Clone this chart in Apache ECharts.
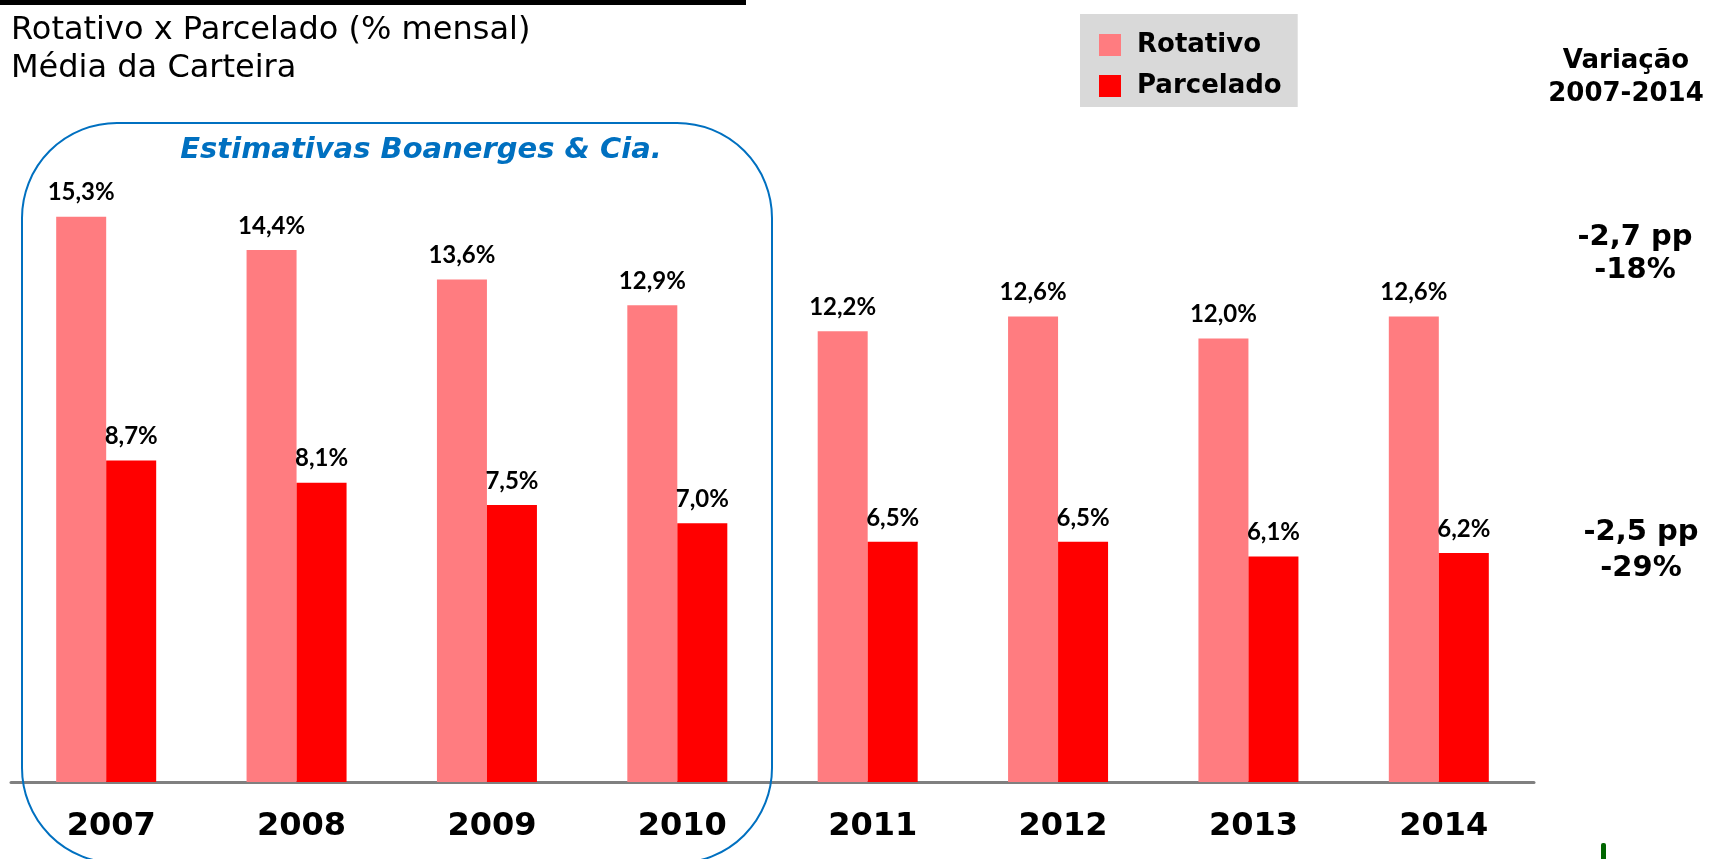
<!DOCTYPE html>
<html>
<head>
<meta charset="utf-8">
<title>Rotativo x Parcelado</title>
<script src="https://cdn.jsdelivr.net/npm/echarts@6/dist/echarts.min.js"></script>
<style>
	html, body { margin: 0; padding: 0; background: #fff; }
	#chart { width: 1712px; height: 859px; }
</style>
</head>
<body>
<div id="chart"></div>
<script>
// dados
const anos = ["2007", "2008", "2009", "2010", "2011", "2012", "2013", "2014"];
const rotativo = [15.3, 14.4, 13.6, 12.9, 12.2, 12.6, 12.0, 12.6];
const parcelado = [8.7, 8.1, 7.5, 7.0, 6.5, 6.5, 6.1, 6.2];
const variacaoRotativo = ["-2,7 pp", "-18%"];
const variacaoParcelado = ["-2,5 pp", "-29%"];

function pct(p) {
	return p.value.toFixed(1).replace(".", ",") + "%";
}

const labelStyle = {
	show: true,
	position: "top",
	distance: 12,
	formatter: pct,
	fontFamily: "Lato",
	fontWeight: "bold",
	fontSize: 24,
	color: "#000",
};

let myChart = echarts.init(document.getElementById("chart"));
let option = {
	animation: false,
	grid: {
		left: 11,
		right: 178,
		top: 43,
		bottom: 77,
	},
	legend: {
		orient: "vertical",
		left: 1080,
		top: 14,
		padding: [18, 16, 8, 19],
		itemGap: 15,
		itemWidth: 22,
		itemHeight: 22,
		backgroundColor: "#d9d9d9",
		icon: "rect",
		textStyle: {
			fontFamily: "DejaVu Sans",
			fontWeight: "bold",
			fontSize: 26,
			lineHeight: 22,
			color: "#000",
			padding: [0, 0, 0, 11],
		},
		data: ["Rotativo", "Parcelado"],
	},
	xAxis: {
		type: "category",
		data: anos,
		axisLine: {
			lineStyle: { color: "#808080", width: 3 },
		},
		axisTick: { show: false },
		axisLabel: {
			margin: 29,
			padding: [0, 0, 0, 10],
			fontFamily: "DejaVu Sans",
			fontWeight: "bold",
			fontSize: 32,
			color: "#000",
		},
	},
	yAxis: {
		type: "value",
		min: 0,
		max: 20,
		show: false,
		splitLine: { show: false },
	},
	series: [
		{
			name: "Rotativo",
			type: "bar",
			data: rotativo,
			barWidth: 50,
			barGap: "0%",
			itemStyle: { color: "#ff7c80" },
			label: labelStyle,
		},
		{
			name: "Parcelado",
			type: "bar",
			data: parcelado,
			barWidth: 50,
			itemStyle: { color: "#ff0000" },
			label: labelStyle,
		},
	],
	graphic: [
		{ type: "rect", shape: { x: 0, y: 0, width: 746, height: 5 }, style: { fill: "#000" } },
		{
			type: "text",
			style: { text: "Rotativo x Parcelado (% mensal)", x: 11, y: 31, textVerticalAlign: "middle", font: "32px 'DejaVu Sans'", fill: "#000" },
		},
		{
			type: "text",
			style: { text: "Média da Carteira", x: 11, y: 69, textVerticalAlign: "middle", font: "32px 'DejaVu Sans'", fill: "#000" },
		},
		// moldura das estimativas
		{
			type: "rect",
			shape: { x: 22, y: 123, width: 750, height: 740, r: 95 },
			style: { fill: "none", stroke: "#0070c0", lineWidth: 2 },
			z: 10,
		},
		{
			type: "text",
			style: { text: "Estimativas Boanerges & Cia.", x: 421, y: 150, textAlign: "center", textVerticalAlign: "middle", font: "italic bold 29px 'DejaVu Sans'", fill: "#0070c0" },
		},
		{
			type: "text",
			style: { text: "Variação\n2007-2014", x: 1626, y: 78, textAlign: "center", textVerticalAlign: "middle", font: "bold 26px 'DejaVu Sans'", lineHeight: 33, fill: "#000" },
		},
		{
			type: "text",
			style: { text: variacaoRotativo.join("\n"), x: 1635, y: 254, textAlign: "center", textVerticalAlign: "middle", font: "bold 29px 'DejaVu Sans'", lineHeight: 33, fill: "#000" },
		},
		{
			type: "text",
			style: { text: variacaoParcelado.join("\n"), x: 1641, y: 550, textAlign: "center", textVerticalAlign: "middle", font: "bold 29px 'DejaVu Sans'", lineHeight: 36, fill: "#000" },
		},
		{ type: "rect", shape: { x: 1601, y: 843, width: 5, height: 20, r: [2, 2, 0, 0] }, style: { fill: "#006600" } },
	],
};
myChart.setOption(option);
</script>
</body>
</html>
